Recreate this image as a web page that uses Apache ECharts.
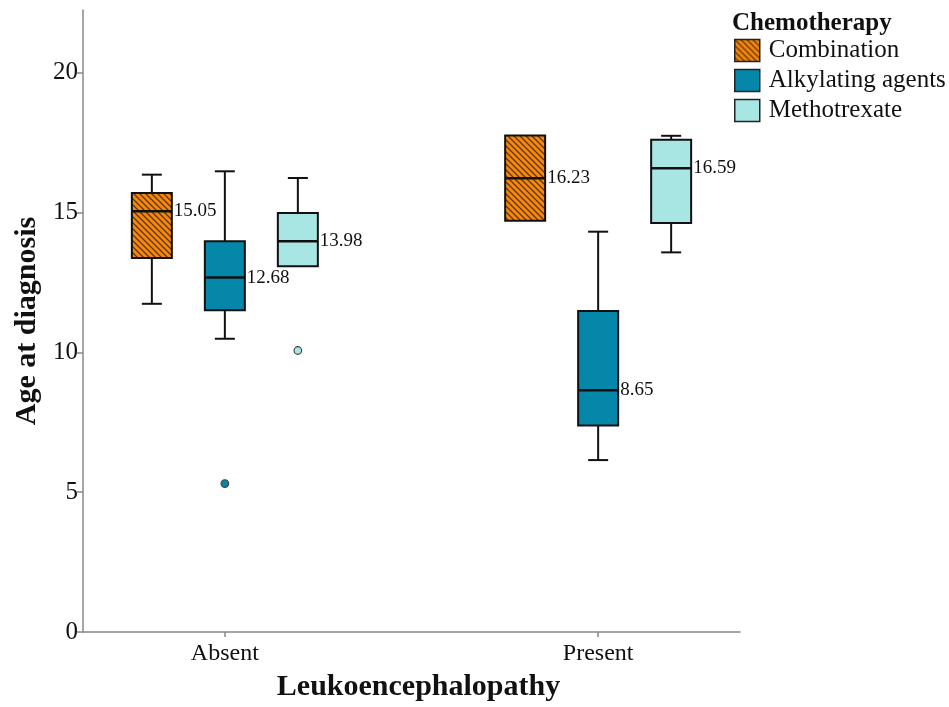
<!DOCTYPE html>
<html>
<head>
<meta charset="utf-8">
<script src="https://cdn.jsdelivr.net/npm/echarts@6/dist/echarts.min.js"></script>
<style>
  html, body { margin: 0; padding: 0; background: #fff; }
  #chart { width: 949px; height: 707px; }
</style>
</head>
<body>
<div id="chart"></div>
<script>
// categories on the x axis
var categories = ["Absent", "Present"];
var seriesNames = ["Combination", "Alkylating agents", "Methotrexate"];

// [category index, min, q1, median, q3, max]
var combination_data = [[0, 11.74, 13.38, 15.05, 15.70, 16.36], [1, 14.71, 14.71, 16.23, 17.76, 17.76]];
var alkylating_data = [[0, 10.49, 11.51, 12.68, 13.98, 16.48], [1, 6.15, 7.39, 8.65, 11.48, 14.32]];
var methotrexate_data = [[0, 13.08, 13.08, 13.98, 14.99, 16.24], [1, 13.58, 14.63, 16.59, 17.61, 17.75]];

// outliers [category index, value]
var alkylating_outliers = [[0, 5.31]];
var methotrexate_outliers = [[0, 10.07]];

var y_ticks = [0, 5, 10, 15, 20];

var FONT = "'Liberation Serif', 'Times New Roman', serif";

// striped fill for Combination
function makeHatch() {
    var c = document.createElement("canvas");
    c.width = 6; c.height = 6;
    var ctx = c.getContext("2d");
    ctx.fillStyle = "#f28a12";
    ctx.fillRect(0, 0, 6, 6);
    ctx.strokeStyle = "#6a3200";
    ctx.lineWidth = 1.3;
    ctx.beginPath();
    ctx.moveTo(-1, -1); ctx.lineTo(7, 7);
    ctx.moveTo(-4, 2); ctx.lineTo(4, 10);
    ctx.moveTo(2, -4); ctx.lineTo(10, 4);
    ctx.stroke();
    return { image: c, repeat: "repeat" };
}

var hatch = makeHatch();
var colors = [hatch, "#0587aa", "#a8e6e4"];
var offsets = [-73, 0, 73];

var BOX_W = 40, CAP_W = 20;

function boxRenderer(offset, fill) {
    return function (params, api) {
        var x = api.coord([api.value(0), 0])[0] + offset;
        var yMin = api.coord([0, api.value(1)])[1];
        var yQ1 = api.coord([0, api.value(2)])[1];
        var yMed = api.coord([0, api.value(3)])[1];
        var yQ3 = api.coord([0, api.value(4)])[1];
        var yMax = api.coord([0, api.value(5)])[1];
        var line = { stroke: "#111", lineWidth: 2 };
        var children = [];
        if (Math.abs(yMax - yQ3) > 0.5) {
            children.push({ type: "line", shape: { x1: x, y1: yQ3, x2: x, y2: yMax }, style: line });
            children.push({ type: "line", shape: { x1: x - CAP_W / 2, y1: yMax, x2: x + CAP_W / 2, y2: yMax }, style: line });
        }
        if (Math.abs(yMin - yQ1) > 0.5) {
            children.push({ type: "line", shape: { x1: x, y1: yQ1, x2: x, y2: yMin }, style: line });
            children.push({ type: "line", shape: { x1: x - CAP_W / 2, y1: yMin, x2: x + CAP_W / 2, y2: yMin }, style: line });
        }
        children.push({
            type: "rect",
            shape: { x: x - BOX_W / 2, y: yQ3, width: BOX_W, height: yQ1 - yQ3 },
            style: { fill: fill, stroke: "#111", lineWidth: 2 }
        });
        children.push({ type: "line", shape: { x1: x - BOX_W / 2, y1: yMed, x2: x + BOX_W / 2, y2: yMed }, style: { stroke: "#111", lineWidth: 2.5 } });
        children.push({
            type: "text",
            style: {
                text: api.value(3).toFixed(2),
                x: x + BOX_W / 2 + 2, y: yMed,
                fill: "#111", fontSize: 19, fontFamily: FONT,
                align: "left", verticalAlign: "middle"
            }
        });
        return { type: "group", children: children };
    };
}

function outlierRenderer(offset, fill) {
    return function (params, api) {
        var p = api.coord([api.value(0), api.value(1)]);
        return {
            type: "circle",
            shape: { cx: p[0] + offset, cy: p[1], r: 3.8 },
            style: { fill: fill, stroke: "#444", lineWidth: 1.2 }
        };
    };
}

var chart = echarts.init(document.getElementById("chart"));

var option = {
    animation: false,
    title: {
        text: "Chemotherapy",
        left: 727, top: 6,
        textStyle: { fontFamily: FONT, fontSize: 25, fontWeight: "bold", color: "#111" }
    },
    legend: {
        orient: "vertical",
        left: 734, top: 38,
        padding: 0,
        itemWidth: 25, itemHeight: 22, itemGap: 5,
        icon: "rect",
        textStyle: { fontFamily: FONT, fontSize: 25, color: "#111", padding: [0, 0, 0, 4] },
        data: seriesNames.map(function (n, i) {
            return { name: n, itemStyle: { color: colors[i], borderColor: "#222", borderWidth: 1.5 } };
        })
    },
    grid: { left: 83, right: 209, top: 10, bottom: 74 },
    xAxis: {
        type: "value",
        min: -0.38, max: 1.38,
        name: "Leukoencephalopathy",
        nameLocation: "middle",
        nameGap: 40,
        nameTextStyle: { fontFamily: FONT, fontSize: 30, fontWeight: "bold", color: "#111", padding: [0, 0, 0, 14] },
        axisLine: { onZero: false, lineStyle: { color: "#888", width: 1.5 } },
        axisTick: { show: true, length: 5, customValues: [0, 1], lineStyle: { color: "#888", width: 1.5 } },
        axisLabel: {
            customValues: [0, 1],
            margin: 10,
            fontFamily: FONT, fontSize: 24, color: "#111",
            formatter: function (v) { return categories[Math.round(v)]; }
        },
        splitLine: { show: false }
    },
    yAxis: {
        type: "value",
        min: 0, max: 22.25,
        name: "Age at diagnosis",
        nameLocation: "middle",
        nameGap: 38,
        nameTextStyle: { fontFamily: FONT, fontSize: 30, fontWeight: "bold", color: "#111" },
        axisLine: { show: true, onZero: false, lineStyle: { color: "#888", width: 1.5 } },
        axisTick: { show: true, length: 6, customValues: y_ticks, lineStyle: { color: "#888", width: 1.5 } },
        axisLabel: { customValues: y_ticks, margin: 5, fontFamily: FONT, fontSize: 25, color: "#111" },
        splitLine: { show: false }
    },
    series: [
        {
            name: seriesNames[0], type: "custom", itemStyle: { color: "#f28a12" },
            renderItem: boxRenderer(offsets[0], colors[0]),
            encode: { x: 0, y: [1, 2, 3, 4, 5] },
            data: combination_data
        },
        {
            name: seriesNames[1], type: "custom", itemStyle: { color: colors[1] },
            renderItem: boxRenderer(offsets[1], colors[1]),
            encode: { x: 0, y: [1, 2, 3, 4, 5] },
            data: alkylating_data
        },
        {
            name: seriesNames[2], type: "custom", itemStyle: { color: colors[2] },
            renderItem: boxRenderer(offsets[2], colors[2]),
            encode: { x: 0, y: [1, 2, 3, 4, 5] },
            data: methotrexate_data
        },
        {
            name: seriesNames[1], type: "custom",
            renderItem: outlierRenderer(offsets[1], colors[1]),
            encode: { x: 0, y: 1 },
            data: alkylating_outliers
        },
        {
            name: seriesNames[2], type: "custom",
            renderItem: outlierRenderer(offsets[2], colors[2]),
            encode: { x: 0, y: 1 },
            data: methotrexate_outliers
        }
    ]
};

chart.setOption(option);
</script>
</body>
</html>
